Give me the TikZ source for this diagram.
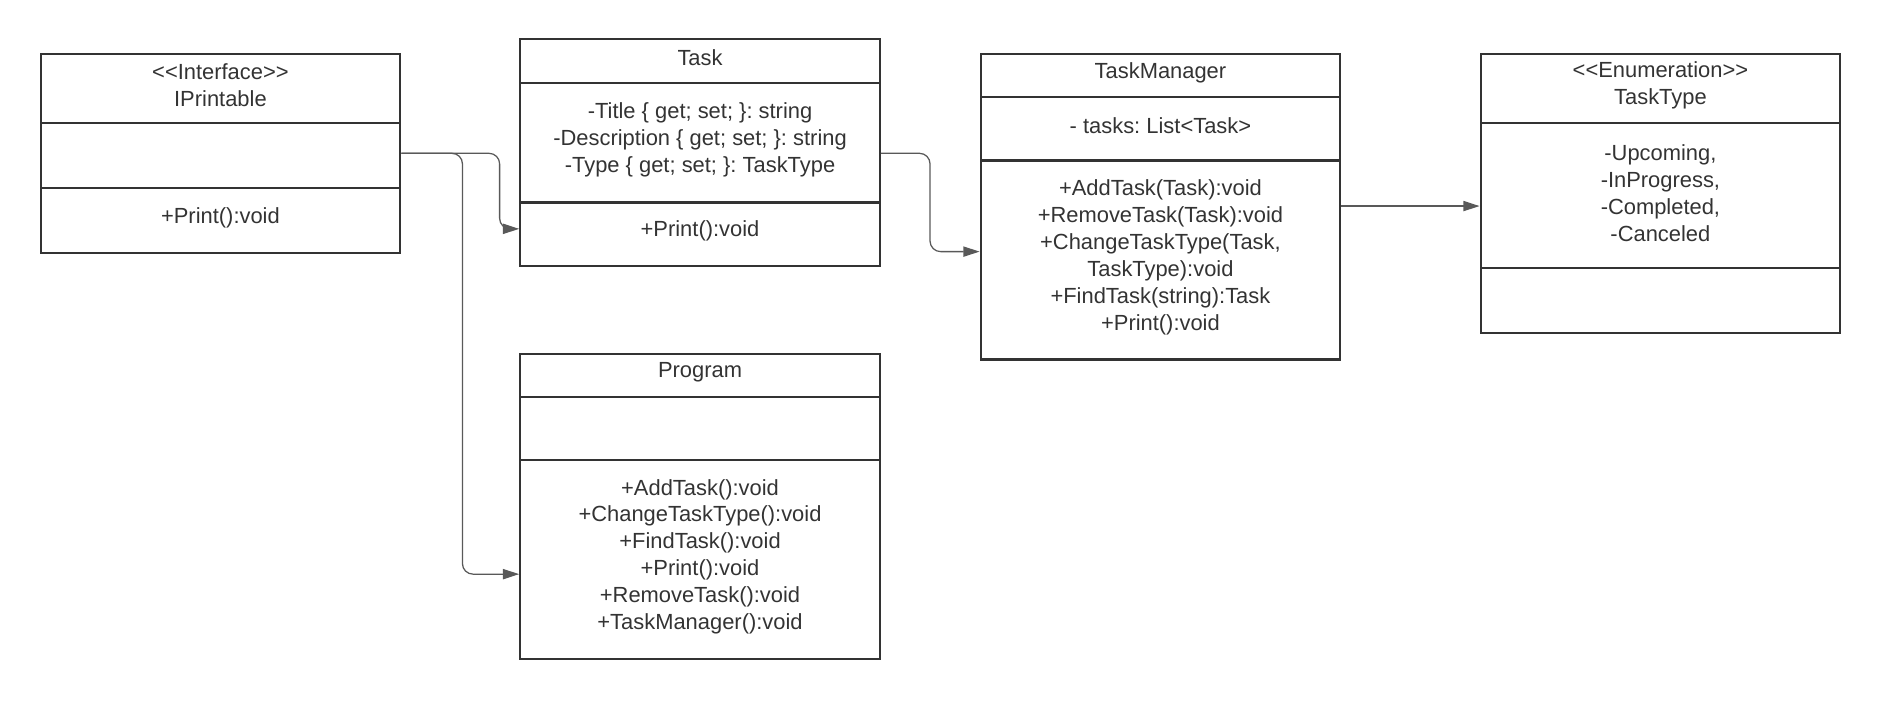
\documentclass[tikz,border=0pt]{standalone}
\usepackage{fontspec}
\setmainfont{Liberation Sans}
\usetikzlibrary{arrows.meta,calc}
\definecolor{ink}{HTML}{333333}
\definecolor{wirec}{HTML}{595959}
\newcommand{\dlt}{<\kern0pt<}
\newcommand{\dgt}{>\kern0pt>}
\frenchspacing
\begin{document}
\begin{tikzpicture}[x=0.02cm,y=-0.02cm,
  comp/.style={draw=ink, line width=1pt, minimum width=6cm, inner sep=0pt,
    anchor=north west},
  txt/.style={align=center, text=ink, inner sep=0pt, yshift=0.05cm,
    font=\fontsize{10.4}{12.8}\selectfont\frenchspacing},
  wire/.style={draw=wirec, line width=0.6pt, rounded corners=5pt,
    -{Triangle[length=0.27cm,width=0.17cm]}}]
\useasboundingbox (0,0) rectangle (1568,584);

% IPrintable
\node[comp, minimum height=1.16cm, label={[txt]center:\dlt Interface\dgt\\IPrintable}] (ip1) at (33,44) {};
\node[comp, minimum height=1.08cm] (ip2) at (33,102) {};
\node[comp, minimum height=1.08cm, label={[txt]center:+Print():void}] (ip3) at (33,156) {};

% Task
\node[comp, minimum height=0.72cm, label={[txt]center:Task}] (tk1) at (433,32) {};
\node[comp, minimum height=2.00cm, label={[txt]center:-Title \{ get; set; \}: string\\-Description \{ get; set; \}: string\\-Type \{ get; set; \}: TaskType}] (tk2) at (433,68) {};
\node[comp, minimum height=1.06cm, label={[txt]center:+Print():void}] (tk3) at (433,168) {};

% TaskManager
\node[comp, minimum height=0.72cm, label={[txt]center:TaskManager}] (tm1) at (817,44) {};
\node[comp, minimum height=1.06cm, label={[txt]center:- tasks: List<Task>}] (tm2) at (817,80) {};
\node[comp, minimum height=3.32cm, label={[txt]center:+AddTask(Task):void\\+RemoveTask(Task):void\\+ChangeTaskType(Task,\\TaskType):void\\+FindTask(string):Task\\+Print():void}] (tm3) at (817,133) {};

% TaskType
\node[comp, minimum height=1.16cm, label={[txt]center:\dlt Enumeration\dgt\\TaskType}] (tt1) at (1234,44) {};
\node[comp, minimum height=2.42cm, label={[txt]center:-Upcoming,\\-InProgress,\\-Completed,\\-Canceled}] (tt2) at (1234,102) {};
\node[comp, minimum height=1.08cm] (tt3) at (1234,223) {};

% Program
\node[comp, minimum height=0.72cm, label={[txt]center:Program}] (pg1) at (433,294) {};
\node[comp, minimum height=1.06cm] (pg2) at (433,330) {};
\node[comp, minimum height=3.32cm, label={[txt]center:+AddTask():void\\+ChangeTaskType():void\\+FindTask():void\\+Print():void\\+RemoveTask():void\\+TaskManager():void}] (pg3) at (433,383) {};

% connectors
\draw[wire] ($(ip2.east)+(0,-2)$) -- ++(82,0) |- ($(tk3.west)+(0,-4.5)$);
\draw[wire] ($(ip2.east)+(0,-2)$) -- ++(51,0) |- ($(pg3.west)+(0,12)$);
\draw[wire] ($(tk2.east)+(0,9)$) -- ++(41,0) |- ($(tm3.west)+(0,-7)$);
\draw[wire] ($(tm3.east|-tt2.west)+(0,8.5)$) -- ($(tt2.west)+(0,8.5)$);
\end{tikzpicture}
\end{document}
